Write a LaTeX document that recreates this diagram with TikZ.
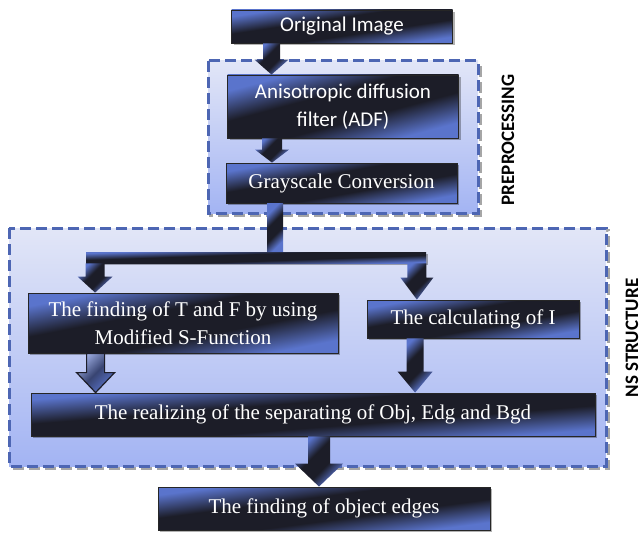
\documentclass[tikz,border=0pt]{standalone}
\usepackage{fontspec}
\setmainfont{Liberation Serif}
\setsansfont{Carlito}
\usetikzlibrary{calc,shadows}

\definecolor{boxblue}{HTML}{5A74CC}
\definecolor{boxdark}{HTML}{1C1D28}
\definecolor{regionline}{HTML}{4D66B3}
\definecolor{regiontop}{HTML}{E2E6F7}
\definecolor{regionbot}{HTML}{A3B4F3}

% metallic look of the steps
\pgfdeclareverticalshading{steelbox}{100bp}{color(0bp)=(boxblue); color(27bp)=(boxblue);
  color(42bp)=(boxdark); color(58bp)=(boxdark); color(73bp)=(boxblue); color(100bp)=(boxblue)}

% block arrow: [style] from, to, shaft half width, head half width, head length
\newcommand{\blockarrow}[6][]{%
  \path[arrowshade,#1] let \p1=(#2), \p2=(#3) in
    (\x1-#4pt,\y1) -- (\x1+#4pt,\y1) -- (\x1+#4pt,\y2+#6pt) -- (\x1+#5pt,\y2+#6pt)
    -- (\x1,\y2) -- (\x1-#5pt,\y2+#6pt) -- (\x1-#4pt,\y2+#6pt) -- cycle;}

\begin{document}
\begin{tikzpicture}[
    x=1pt, y=-1pt,
    box/.style={draw=black!85, line width=0.8pt, text=white, align=center, inner sep=0pt,
        shading=steelbox, shading angle=10,
        drop shadow={shadow xshift=2pt, shadow yshift=-2pt, fill=black, opacity=0.3}},
    sansbox/.style={box, font=\sffamily\fontsize{21}{28}\selectfont},
    serifbox/.style={box, font=\fontsize{21}{28}\selectfont},
    arrowshade/.style={shading=steelbox, shading angle=45},
    hollow/.style={draw=boxdark, line width=1.2pt, shading=axis, top color=boxblue!60!white,
        bottom color=boxblue, middle color=boxblue!45!boxdark, shading angle=45},
    region/.style={draw=regionline, line width=3pt, dash pattern=on 11pt off 5pt,
        top color=regiontop, bottom color=regionbot},
    grouplabel/.style={font=\sffamily\bfseries\fontsize{19}{19}\selectfont, rotate=90}
]
\useasboundingbox (0,0) rectangle (644,532);

% Regions
\draw[black!35, line width=3pt, dash pattern=on 11pt off 5pt] (210,63) rectangle (480,215);
\draw[region] (208,61) rectangle (478,213);
\draw[black!35, line width=3pt, dash pattern=on 11pt off 5pt] (11,230) rectangle (608,468);
\draw[region] (9,228) rectangle (606,466);
\node[grouplabel] (prelbl) at (508,140) {PREPROCESSING};
\node[grouplabel] (nslbl) at (632,338) {NS STRUCTURE};

% Steps
\node[sansbox, shading angle=8.5, minimum width=221, minimum height=33] (orig) at (342,26.5) {Original Image};
\node[sansbox, shading angle=15, minimum width=231, minimum height=63] (adf) at (343,106.5) {Anisotropic diffusion\\filter (ADF)};
\node[serifbox, shading angle=10, minimum width=231, minimum height=40] (gray) at (341.5,183) {Grayscale Conversion};
\node[box, shading angle=2, minimum width=340, minimum height=11, draw=none, drop shadow={opacity=0}] (bar) at (256,257.5) {};
\node[serifbox, shading angle=11, minimum width=310, minimum height=60] (tf) at (183,323) {The finding of T and F by using\\Modified S-Function};
\node[serifbox, shading angle=10, minimum width=212, minimum height=38] (calc) at (473,319) {The calculating of I};
\node[serifbox, shading angle=4.5, minimum width=564, minimum height=43] (real) at (313,414.5) {The realizing of the separating of Obj, Edg and Bgd};
\node[serifbox, shading angle=7.5, minimum width=332, minimum height=43] (edges) at (324,508.5) {The finding of object edges};

% Arrows
\blockarrow{[xshift=-70.5pt]orig.south}{adf.north}{8.5}{17}{15}
\blockarrow{[xshift=-71pt]adf.south}{gray.north}{10}{17}{13}
\path[arrowshade] let \p1=([xshift=-66.5pt]gray.south), \p2=(bar.north) in
    (\x1-8pt,\y1) rectangle (\x1+8pt,\y2);
\blockarrow{[xshift=9.5pt]bar.south west}{tf.north}{9.5}{17.5}{16}
\blockarrow{[xshift=-9.5pt]bar.south east}{calc.north}{9.5}{16.5}{22}
\blockarrow[hollow]{[xshift=68pt]tf.south west}{real.north}{9}{19}{20}
\blockarrow{[xshift=48.5pt]calc.south west}{real.north}{8.5}{17.5}{21}
\blockarrow{[xshift=6pt]real.south}{edges.north}{11}{24}{23}

\end{tikzpicture}
\end{document}
